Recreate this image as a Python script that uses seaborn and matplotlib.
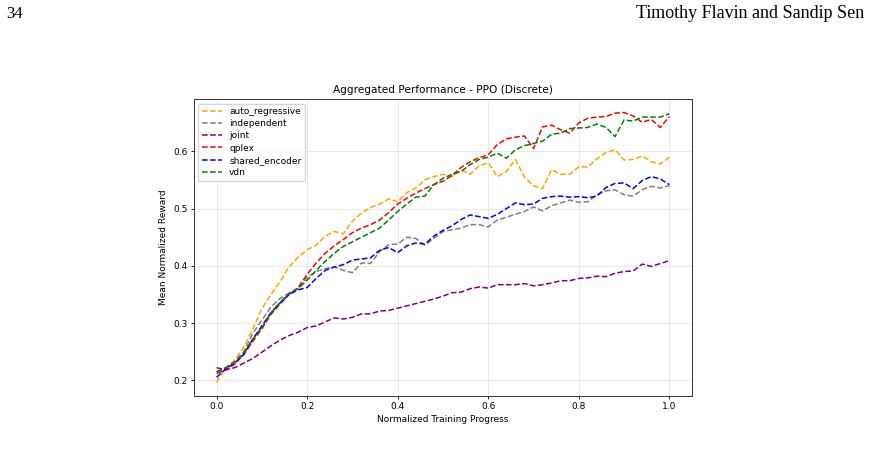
"""Aggregated performance plot (PPO discrete) as it appears on a paper page."""
import matplotlib
matplotlib.use("Agg")
import matplotlib.pyplot as plt
import numpy as np
import pandas as pd
import seaborn as sns

# normalized training progress, sampled every 0.02
progress = np.linspace(0.0, 1.0, 51)

auto_regressive = [
    0.196, 0.222, 0.235, 0.258, 0.290, 0.325, 0.350, 0.372, 0.398, 0.415,
    0.428, 0.436, 0.452, 0.460, 0.456, 0.478, 0.492, 0.502, 0.508, 0.517,
    0.512, 0.528, 0.536, 0.550, 0.556, 0.560, 0.556, 0.568, 0.560, 0.575,
    0.580, 0.556, 0.565, 0.586, 0.555, 0.540, 0.535, 0.568, 0.560, 0.560,
    0.573, 0.573, 0.587, 0.598, 0.603, 0.585, 0.586, 0.592, 0.582, 0.578,
    0.590]
independent = [
    0.215, 0.220, 0.232, 0.250, 0.282, 0.305, 0.328, 0.343, 0.352, 0.360,
    0.380, 0.390, 0.395, 0.398, 0.392, 0.388, 0.405, 0.404, 0.425, 0.437,
    0.438, 0.450, 0.448, 0.436, 0.448, 0.460, 0.463, 0.466, 0.472, 0.472,
    0.468, 0.480, 0.485, 0.490, 0.495, 0.503, 0.496, 0.505, 0.510, 0.515,
    0.511, 0.512, 0.524, 0.531, 0.533, 0.524, 0.522, 0.533, 0.539, 0.536,
    0.540]
joint = [
    0.222, 0.218, 0.222, 0.230, 0.238, 0.249, 0.260, 0.270, 0.278, 0.284,
    0.292, 0.295, 0.302, 0.309, 0.307, 0.310, 0.316, 0.316, 0.321, 0.322,
    0.326, 0.330, 0.334, 0.338, 0.342, 0.347, 0.353, 0.354, 0.360, 0.363,
    0.361, 0.367, 0.367, 0.367, 0.369, 0.365, 0.367, 0.370, 0.374, 0.374,
    0.378, 0.379, 0.382, 0.381, 0.387, 0.390, 0.391, 0.403, 0.399, 0.404,
    0.409]
qplex = [
    0.212, 0.218, 0.228, 0.245, 0.268, 0.290, 0.315, 0.333, 0.350, 0.362,
    0.385, 0.405, 0.422, 0.435, 0.446, 0.458, 0.466, 0.472, 0.480, 0.493,
    0.508, 0.518, 0.527, 0.535, 0.542, 0.548, 0.558, 0.572, 0.582, 0.589,
    0.594, 0.612, 0.622, 0.625, 0.627, 0.605, 0.643, 0.646, 0.638, 0.632,
    0.650, 0.658, 0.660, 0.661, 0.667, 0.668, 0.662, 0.651, 0.656, 0.642,
    0.661]
shared_encoder = [
    0.205, 0.220, 0.230, 0.245, 0.272, 0.295, 0.318, 0.335, 0.350, 0.358,
    0.362, 0.378, 0.392, 0.398, 0.402, 0.410, 0.412, 0.414, 0.427, 0.432,
    0.423, 0.435, 0.440, 0.438, 0.452, 0.462, 0.470, 0.481, 0.489, 0.486,
    0.483, 0.490, 0.500, 0.510, 0.507, 0.508, 0.518, 0.521, 0.522, 0.520,
    0.521, 0.519, 0.522, 0.537, 0.544, 0.545, 0.535, 0.549, 0.556, 0.552,
    0.542]
vdn = [
    0.215, 0.222, 0.232, 0.248, 0.272, 0.292, 0.318, 0.336, 0.352, 0.360,
    0.375, 0.392, 0.408, 0.422, 0.434, 0.442, 0.450, 0.458, 0.466, 0.480,
    0.495, 0.508, 0.520, 0.522, 0.542, 0.553, 0.560, 0.565, 0.577, 0.586,
    0.590, 0.597, 0.588, 0.603, 0.610, 0.614, 0.618, 0.630, 0.632, 0.640,
    0.641, 0.642, 0.648, 0.642, 0.626, 0.655, 0.653, 0.660, 0.660, 0.660,
    0.666]

methods = ["auto_regressive", "independent", "joint", "qplex",
           "shared_encoder", "vdn"]
colors = ["orange", "gray", "purple", "red", "blue", "green"]


def main():
    series = [auto_regressive, independent, joint, qplex, shared_encoder, vdn]
    data = pd.DataFrame({name: vals for name, vals in zip(methods, series)})
    data["progress"] = progress

    fig = plt.figure(figsize=(8.69, 4.65), dpi=100)
    ax = fig.add_axes([0.2232, 0.1484, 0.5731, 0.6386])

    for name, color in zip(methods, colors):
        sns.lineplot(data=data, x="progress", y=name, ax=ax, color=color,
                     linestyle="--", linewidth=1.1, label=name)

    ax.set_title("Aggregated Performance - PPO (Discrete)", fontsize=7.6, pad=4)
    ax.set_xlabel("Normalized Training Progress", fontsize=6.5, labelpad=3)
    ax.set_ylabel("Mean Normalized Reward", fontsize=6.5, labelpad=4)
    ax.tick_params(labelsize=6.5, width=0.6, length=2.5, pad=2)
    ax.set_xticks([0.0, 0.2, 0.4, 0.6, 0.8, 1.0])
    ax.set_yticks([0.2, 0.3, 0.4, 0.5, 0.6])
    ax.grid(True, alpha=0.3, linewidth=0.6)
    for sp in ax.spines.values():
        sp.set_linewidth(0.7)
        sp.set_color("#333333")
    ax.legend(loc="upper left", fontsize=6.5, handlelength=2.2,
              labelspacing=0.35, borderpad=0.4, framealpha=0.8)

    # running header of the paper page
    fig.text(0.007, 0.97, "34", fontsize=12, family="Liberation Serif",
             ha="left", va="center")
    fig.text(0.994, 0.97, "Timothy Flavin and Sandip Sen", fontsize=13,
             family="Liberation Serif", ha="right", va="center")

    fig.savefig("out.png", dpi=100)
    plt.close(fig)


if __name__ == "__main__":
    main()
